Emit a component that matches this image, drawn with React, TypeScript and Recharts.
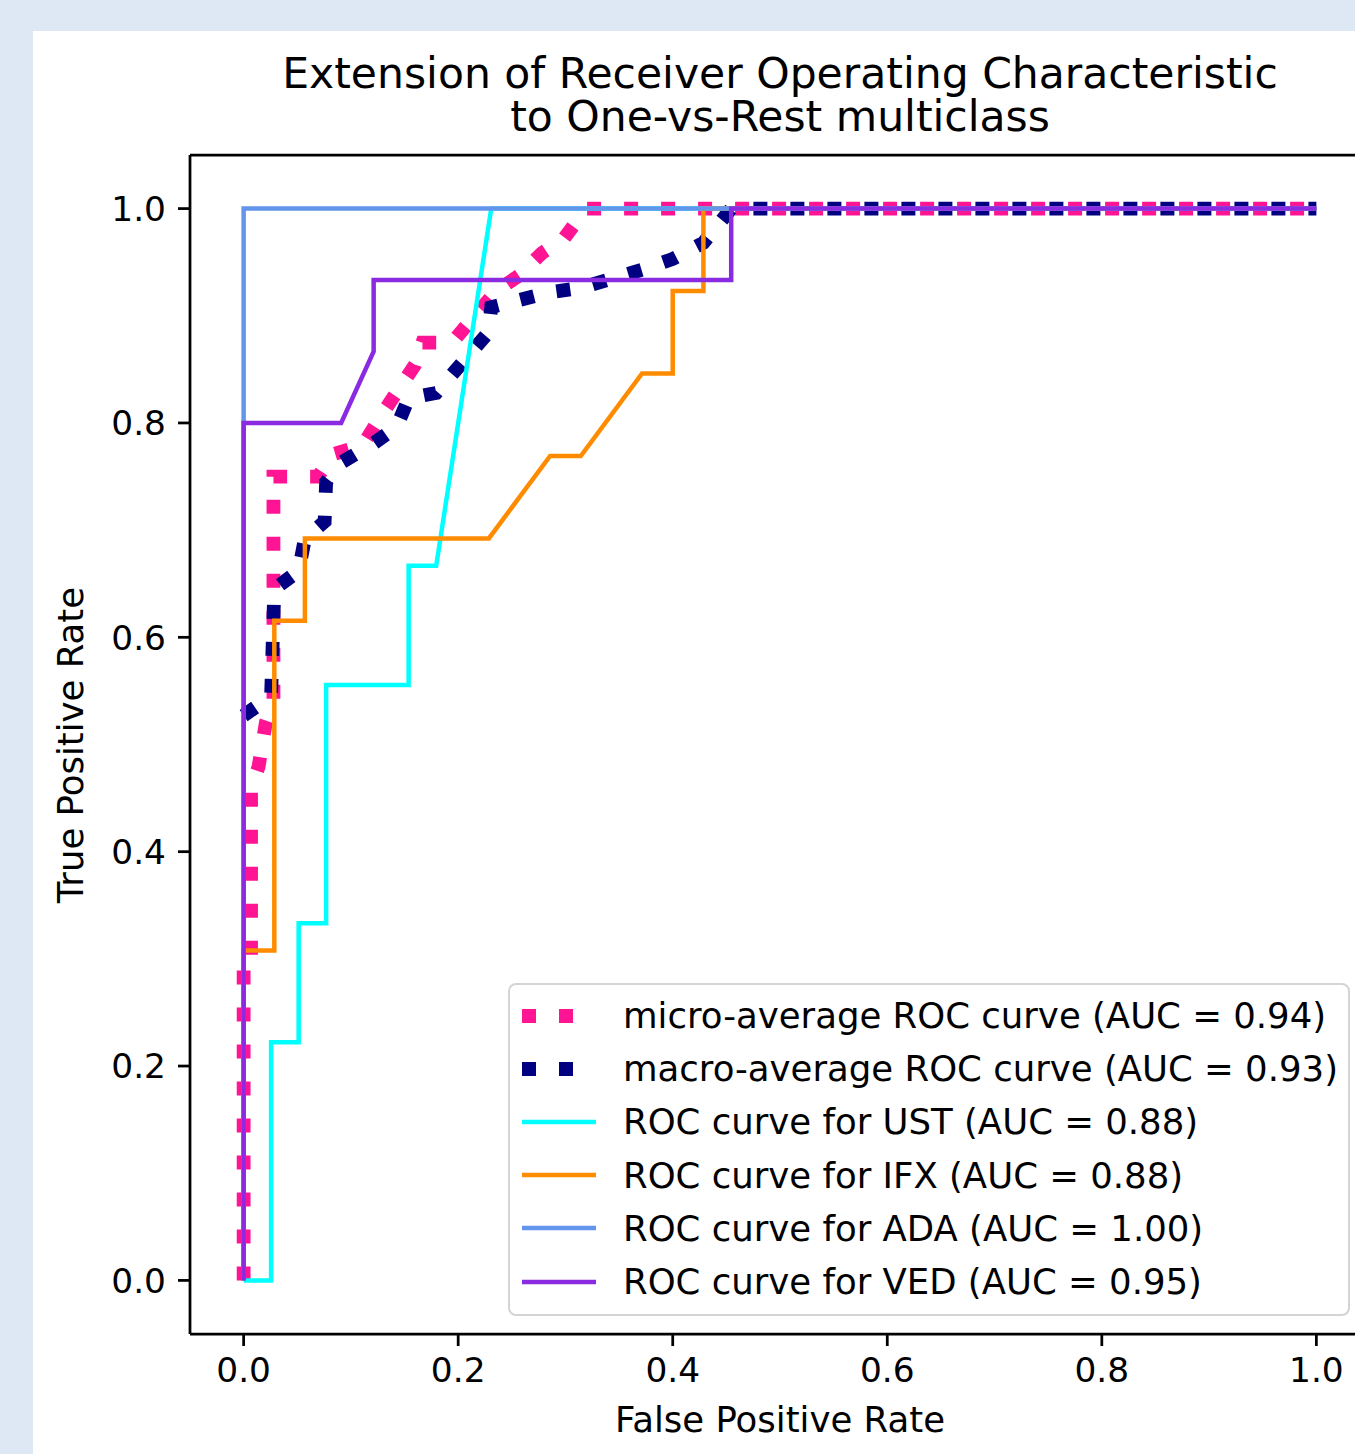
import { LineChart, Line, XAxis, YAxis, ReferenceLine } from "recharts";

const ticks = [0, 0.2, 0.4, 0.6, 0.8, 1.0];

const titleLines = ["Extension of Receiver Operating Characteristic", "to One-vs-Rest multiclass"];

// micro-average (pooled over all classes)
const microFpr = [0, 0, 0.0069, 0.0069, 0.0139, 0.0208, 0.0278, 0.0278, 0.0347, 0.0694, 0.0833, 0.1111, 0.1319, 0.1458, 0.1597, 0.1667, 0.1944, 0.2153, 0.2361, 0.2569, 0.2778, 0.2986, 0.3194, 1];
const microTpr = [0, 0.2917, 0.2917, 0.4583, 0.4792, 0.5208, 0.5417, 0.75, 0.75, 0.75, 0.7708, 0.7792, 0.8125, 0.8333, 0.8542, 0.875, 0.875, 0.9, 0.9236, 0.9375, 0.9583, 0.9722, 1, 1];

// macro-average
const macroFpr = [0, 0.0256, 0.0286, 0.0513, 0.0571, 0.0755, 0.0769, 0.0909, 0.1212, 0.1425, 0.1538, 0.1795, 0.2286, 0.2308, 0.2857, 0.3143, 0.3714, 0.4, 0.4286, 0.4545, 1];
const macroTpr = [0.527, 0.545, 0.645, 0.662, 0.692, 0.708, 0.745, 0.763, 0.781, 0.796, 0.823, 0.828, 0.885, 0.908, 0.922, 0.926, 0.943, 0.953, 0.968, 1, 1];

const ustFpr = [0, 0.0256, 0.0256, 0.0513, 0.0513, 0.0769, 0.0769, 0.1538, 0.1538, 0.1795, 0.2308, 1];
const ustTpr = [0, 0, 0.2222, 0.2222, 0.3333, 0.3333, 0.5556, 0.5556, 0.6667, 0.6667, 1, 1];

const ifxFpr = [0, 0, 0.0286, 0.0286, 0.0571, 0.0571, 0.2286, 0.2857, 0.3143, 0.3714, 0.4, 0.4, 0.4286, 0.4286, 1];
const ifxTpr = [0, 0.3077, 0.3077, 0.6154, 0.6154, 0.6923, 0.6923, 0.7692, 0.7692, 0.8462, 0.8462, 0.9231, 0.9231, 1, 1];

const adaFpr = [0, 0, 1];
const adaTpr = [0, 1, 1];

const vedFpr = [0, 0, 0.0909, 0.1212, 0.1212, 0.4545, 0.4545, 1];
const vedTpr = [0, 0.8, 0.8, 0.8667, 0.9333, 0.9333, 1, 1];

const toPoints = (fpr: number[], tpr: number[]) =>
  fpr.map((x, i) => ({ x, y: tpr[i] }));

const series = [
  { key: "micro", label: "micro-average ROC curve (AUC = 0.94)", color: "#ff1493", dotted: true, data: toPoints(microFpr, microTpr) },
  { key: "macro", label: "macro-average ROC curve (AUC = 0.93)", color: "#000080", dotted: true, data: toPoints(macroFpr, macroTpr) },
  { key: "ust", label: "ROC curve for UST (AUC = 0.88)", color: "#00ffff", dotted: false, data: toPoints(ustFpr, ustTpr) },
  { key: "ifx", label: "ROC curve for IFX (AUC = 0.88)", color: "#ff8c00", dotted: false, data: toPoints(ifxFpr, ifxTpr) },
  { key: "ada", label: "ROC curve for ADA (AUC = 1.00)", color: "#6495ed", dotted: false, data: toPoints(adaFpr, adaTpr) },
  { key: "ved", label: "ROC curve for VED (AUC = 0.95)", color: "#8a2be2", dotted: false, data: toPoints(vedFpr, vedTpr) },
];

const font = "'DejaVu Sans', sans-serif";
const tickStyle = { fill: "#000", fontSize: 34.4, fontFamily: font };
const spine = { stroke: "#000", strokeWidth: 2.75 };
const dots = "14 23";

const App = () => {
  return (
    <div
      style={{
        position: "absolute",
        left: 0,
        top: 0,
        width: 1355,
        height: 1454,
        background: "#dde8f4",
        overflow: "hidden",
        fontFamily: font,
        color: "#000",
      }}
    >
      <div style={{ position: "absolute", left: 33, top: 31, right: 0, bottom: 0, background: "#fff" }} />

      {titleLines.map((t, i) => (
        <div
          key={t}
          style={{
            position: "absolute",
            left: 190,
            top: 52 + i * 43,
            width: 1180,
            height: 43,
            textAlign: "center",
            fontSize: 42.5,
            lineHeight: "43px",
            whiteSpace: "nowrap",
          }}
        >
          {t}
        </div>
      ))}

      <div style={{ position: "absolute", left: 0, top: 0 }}>
        <LineChart
          width={1400}
          height={1454}
          margin={{ top: 155, right: 30, bottom: 60, left: 90 }}
        >
          <XAxis
            dataKey="x"
            type="number"
            domain={[-0.05, 1.05]}
            ticks={ticks}
            interval={0}
            allowDataOverflow
            tickFormatter={(v: number) => v.toFixed(1)}
            height={60}
            tickSize={12}
            tickMargin={12}
            axisLine={spine}
            tickLine={spine}
            tick={tickStyle}
          />
          <YAxis
            type="number"
            domain={[-0.05, 1.05]}
            ticks={ticks}
            interval={0}
            allowDataOverflow
            tickFormatter={(v: number) => v.toFixed(1)}
            width={100}
            tickSize={12}
            tickMargin={12}
            axisLine={spine}
            tickLine={spine}
            tick={tickStyle}
          />
          <ReferenceLine y={1.05} stroke="#000" strokeWidth={2.75} ifOverflow="visible" />
          <ReferenceLine x={1.05} stroke="#000" strokeWidth={2.75} ifOverflow="visible" />
          {series.map((s) => (
            <Line
              key={s.key}
              data={s.data}
              dataKey="y"
              type="linear"
              stroke={s.color}
              strokeWidth={s.dotted ? 13.8 : 4.5}
              strokeDasharray={s.dotted ? dots : undefined}
              strokeLinecap="butt"
              strokeLinejoin="miter"
              dot={false}
              activeDot={false}
              isAnimationActive={false}
            />
          ))}
        </LineChart>
      </div>

      <div
        style={{
          position: "absolute",
          left: 0,
          top: 1400,
          width: 1560,
          textAlign: "center",
          fontSize: 35.5,
          lineHeight: "40px",
        }}
      >
        False Positive Rate
      </div>

      <div
        style={{
          position: "absolute",
          left: 71 - 300,
          top: 745 - 20,
          width: 600,
          height: 40,
          textAlign: "center",
          fontSize: 35.5,
          lineHeight: "40px",
          transform: "rotate(-90deg)",
        }}
      >
        True Positive Rate
      </div>

      <div
        style={{
          position: "absolute",
          left: 508,
          top: 983,
          width: 842,
          height: 333,
          boxSizing: "border-box",
          border: "2px solid #d4d4d4",
          borderRadius: 8,
          background: "rgba(255,255,255,0.8)",
          paddingTop: 4,
        }}
      >
        {series.map((s) => (
          <div key={s.key} style={{ display: "flex", alignItems: "center", height: 53.2 }}>
            <svg width={75} height={20} style={{ marginLeft: 12, marginRight: 26, flexShrink: 0 }}>
              <line
                x1={0}
                y1={10}
                x2={74}
                y2={10}
                stroke={s.color}
                strokeWidth={s.dotted ? 13.8 : 4.5}
                strokeDasharray={s.dotted ? dots : undefined}
              />
            </svg>
            <span style={{ fontSize: 35.5, whiteSpace: "nowrap" }}>{s.label}</span>
          </div>
        ))}
      </div>
    </div>
  );
};

export default App;
